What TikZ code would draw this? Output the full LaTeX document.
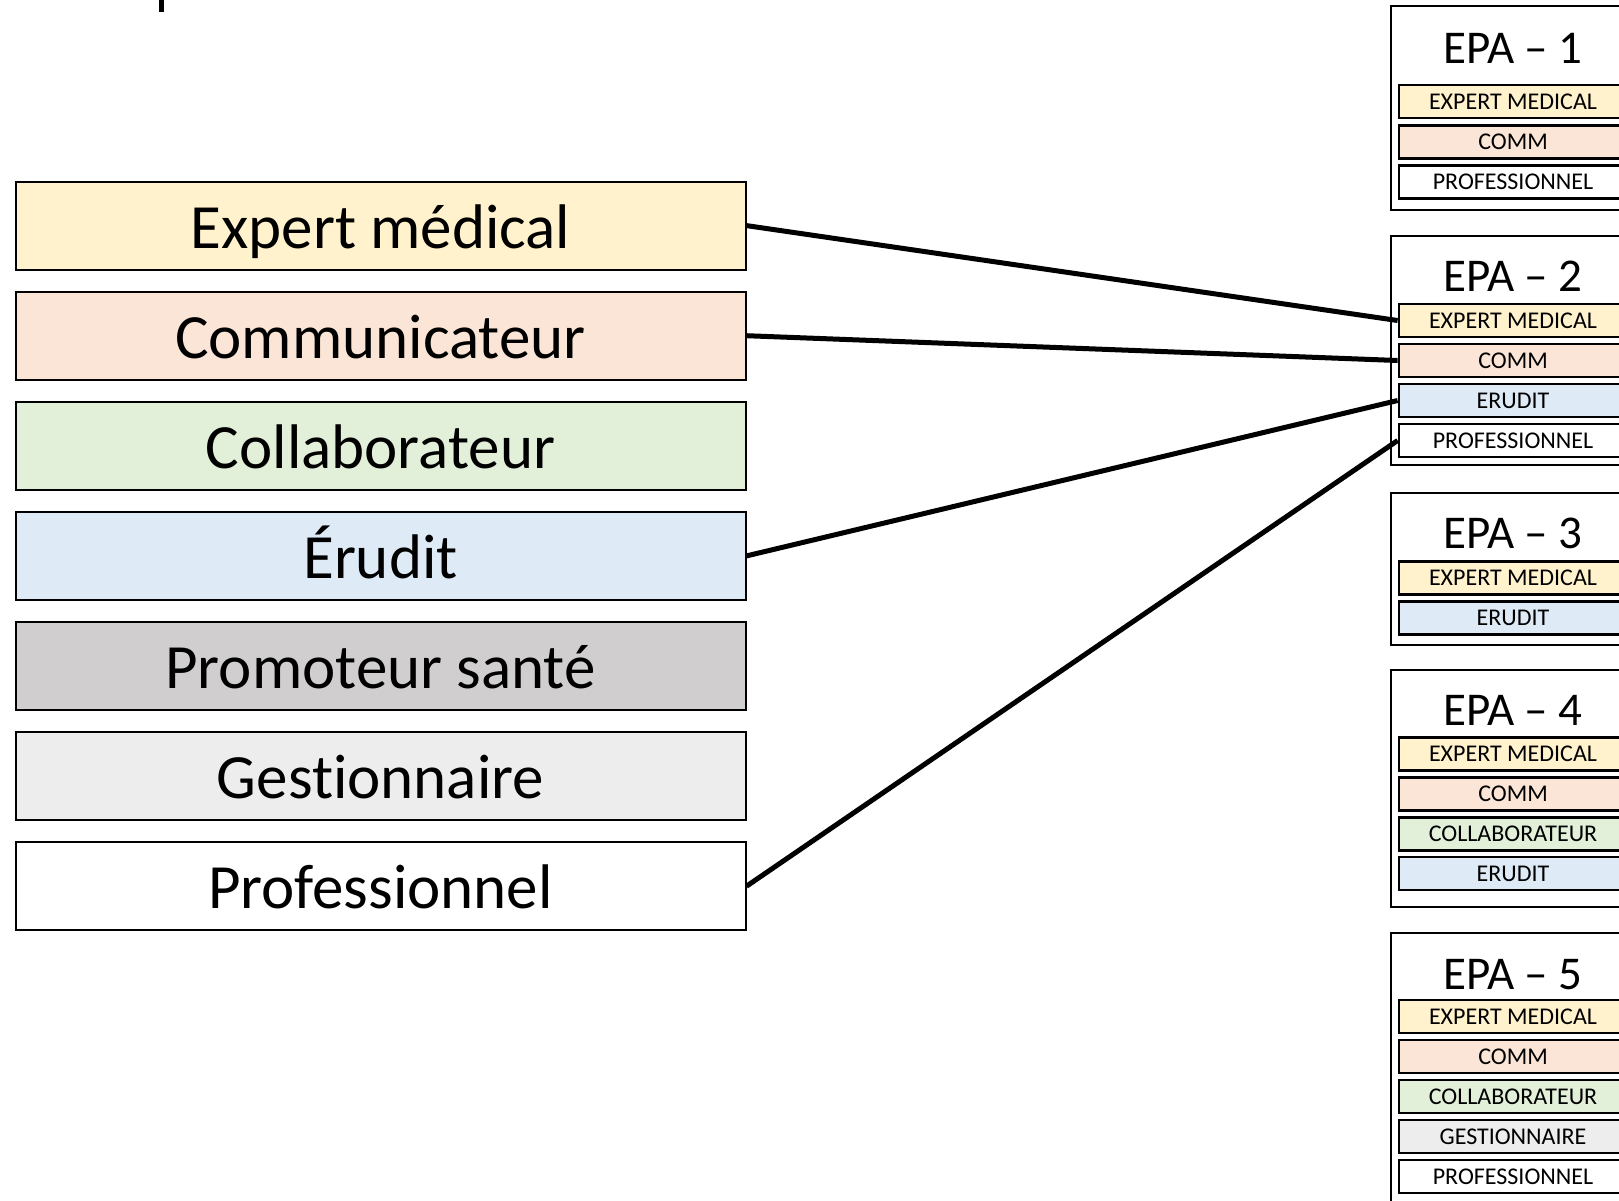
\documentclass[tikz,border=0pt]{standalone}
\usepackage{fontspec}
\setmainfont{Carlito}[Ligatures=NoCommon]
\usetikzlibrary{positioning}
\definecolor{cexp}{HTML}{FFF2CC}
\definecolor{ccom}{HTML}{FBE5D6}
\definecolor{ccol}{HTML}{E2F0D9}
\definecolor{ceru}{HTML}{DEEBF7}
\definecolor{cpsa}{HTML}{D0CECE}
\definecolor{cges}{HTML}{EDEDED}

\begin{document}
\begin{tikzpicture}[x=1pt,y=-1pt,node distance=110.1pt,on grid,
   role/.style={draw,line width=2pt,minimum width=730pt,minimum height=88pt,inner sep=0pt,text height=45pt,text depth=0pt,font=\fontsize{63}{68}\selectfont},
   comp/.style={draw,line width=2.8pt,minimum width=228pt,minimum height=33pt,inner sep=0pt,font=\fontsize{24}{27}\selectfont},
   ttl/.style={inner sep=0pt,font=\fontsize{47}{52}\selectfont},
   epa/.style={draw,line width=2pt},
   link/.style={line width=5pt}]
   \clip (0,0) rectangle (1619,1200);
   \fill (159,0) rectangle (164,12);
   % roles
   \node[role,fill=cexp] (exp) at (380.5,225.6) {Expert médical};
   \node[role,fill=ccom] (com) [below=of exp] {Communicateur};
   \node[role,fill=ccol] (col) [below=of com] {Collaborateur};
   \node[role,fill=ceru] (eru) [below=of col] {Érudit};
   \node[role,fill=cpsa] (psa) [below=of eru] {Promoteur santé};
   \node[role,fill=cges] (ges) [below=of psa] {Gestionnaire};
   \node[role,fill=white] (pro) [below=of ges] {Professionnel};
   % EPA boxes
   \draw[epa] (1391,6) rectangle (1636,210);
   \node[ttl] (t1) at (1513,48) {EPA – 1};
   \foreach \lbl/\col [count=\i] in {EXPERT MEDICAL/cexp,COMM/ccom,PROFESSIONNEL/white}
      \node[comp,fill=\col] (e1-\i) at (1513,{101.5+40.2*(\i-1)}) {\lbl};
   \draw[epa] (1391,236) rectangle (1636,465);
   \node[ttl] (t2) at (1513,276) {EPA – 2};
   \foreach \lbl/\col [count=\i] in {EXPERT MEDICAL/cexp,COMM/ccom,ERUDIT/ceru,PROFESSIONNEL/white}
      \node[comp,fill=\col] (e2-\i) at (1513,{320.5+40*(\i-1)}) {\lbl};
   \draw[epa] (1391,493) rectangle (1636,645);
   \node[ttl] (t3) at (1513,533) {EPA – 3};
   \foreach \lbl/\col [count=\i] in {EXPERT MEDICAL/cexp,ERUDIT/ceru}
      \node[comp,fill=\col] (e3-\i) at (1513,{578+40*(\i-1)}) {\lbl};
   \draw[epa] (1391,670) rectangle (1636,907);
   \node[ttl] (t4) at (1513,710) {EPA – 4};
   \foreach \lbl/\col [count=\i] in {EXPERT MEDICAL/cexp,COMM/ccom,COLLABORATEUR/ccol,ERUDIT/ceru}
      \node[comp,fill=\col] (e4-\i) at (1513,{754+39.8*(\i-1)}) {\lbl};
   \draw[epa] (1391,933) rectangle (1636,1230);
   \node[ttl] (t5) at (1513,975) {EPA – 5};
   \foreach \lbl/\col [count=\i] in {EXPERT MEDICAL/cexp,COMM/ccom,COLLABORATEUR/ccol,GESTIONNAIRE/cges,PROFESSIONNEL/white}
      \node[comp,fill=\col] (e5-\i) at (1513,{1016.5+40*(\i-1)}) {\lbl};
   % links
   \draw[link] (exp.east) -- (e2-1.west);
   \draw[link] (com.east) -- (e2-2.west);
   \draw[link] (eru.east) -- (e2-3.west);
   \draw[link] (pro.east) -- (e2-4.west);
\end{tikzpicture}
\end{document}
